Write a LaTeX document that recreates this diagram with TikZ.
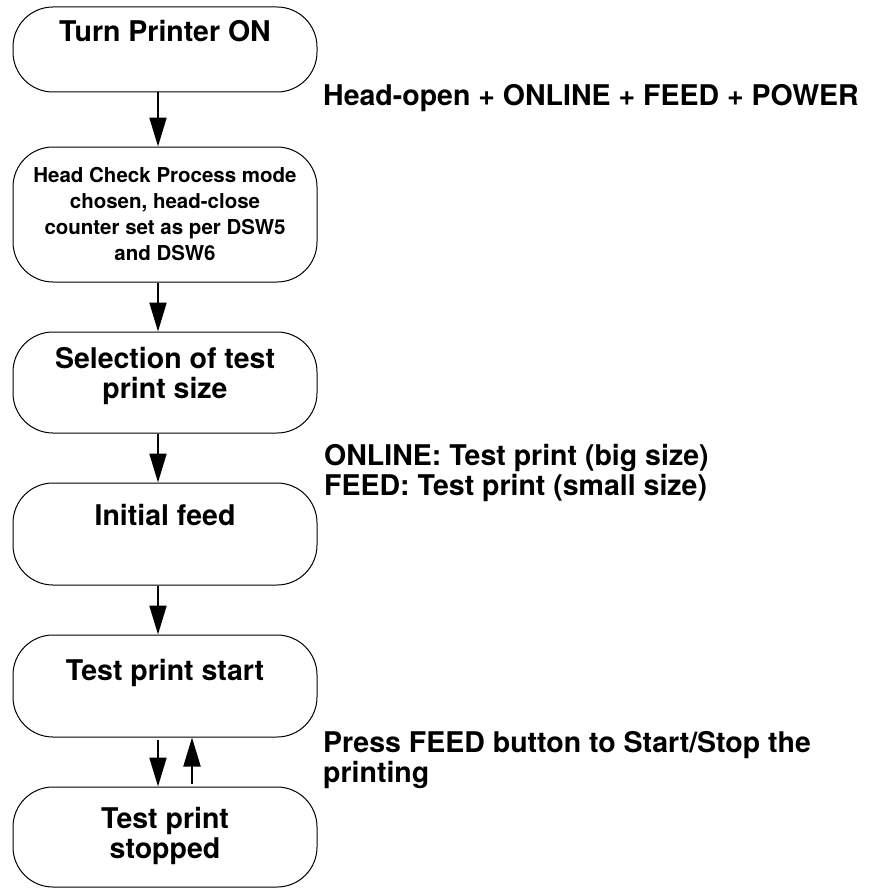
\documentclass[tikz,border=0pt]{standalone}
\usepackage{fontspec}
\setmainfont{TeX Gyre Heros}
\usetikzlibrary{arrows.meta}

\begin{document}
\begin{tikzpicture}[x=1pt,y=-1pt]
    \tikzset{
        stepbox/.style={draw, line width=1pt, rounded corners=40pt, inner sep=0pt,
            font=\bfseries\fontsize{28.5}{30}\selectfont},
        flow/.style={line width=2pt, -{Triangle[length=29pt,width=17pt]}},
        note/.style={inner sep=0pt, align=left, anchor=base west,
            font=\bfseries\fontsize{28.5}{30}\selectfont}
    }
    \useasboundingbox (0,0) rectangle (890,888);

    % Etapes du test
    \node[stepbox] (on) at (165,49.5)
        {\parbox[c][85pt][t]{304pt}{\centering\rule{0pt}{35pt}Turn Printer ON}};
    \node[stepbox, font=\bfseries\fontsize{20.5}{26.3}\selectfont] (head) at (165,214.5)
        {\parbox[c][135pt][t]{304pt}{\centering\rule{0pt}{35pt}Head Check Process mode\\
        chosen, head-close\\counter set as per DSW5\\and DSW6}};
    \node[stepbox] (size) at (165,382.5)
        {\parbox[c][101pt][t]{304pt}{\centering\rule{0pt}{36pt}Selection of test\\print size}};
    \node[stepbox] (feed) at (165,534)
        {\parbox[c][102pt][t]{304pt}{\centering\rule{0pt}{42pt}Initial feed}};
    \node[stepbox] (start) at (165,686)
        {\parbox[c][102pt][t]{304pt}{\centering\rule{0pt}{45pt}Test print start}};
    \node[stepbox] (stopped) at (165,837)
        {\parbox[c][100pt][t]{304pt}{\centering\rule{0pt}{41pt}Test print\\stopped}};

    % Fleches
    \draw[flow] ([xshift=-7pt]on.south) -- ([xshift=-7pt]head.north);
    \draw[flow] ([xshift=-7pt]head.south) -- ([xshift=-7pt]size.north);
    \draw[flow] ([xshift=-7pt]size.south) -- ([xshift=-7pt]feed.north);
    \draw[flow] ([xshift=-7pt]feed.south) -- ([xshift=-7pt]start.north);
    \draw[flow, shorten <=2pt] ([xshift=-7pt]start.south) -- ([xshift=-7pt]stopped.north);
    \draw[flow, shorten <=3pt] ([xshift=27pt]stopped.north) -- ([xshift=27pt]start.south);

    % Annotations (base = derniere ligne)
    \node[note] (keys) at (323,106) {Head-open + ONLINE + FEED + POWER};
    \node[note] (sizes) at (324,495) {ONLINE: Test print (big size)\\FEED: Test print (small size)};
    \node[note] (press) at (323,782) {Press FEED button to Start/Stop the\\printing};
\end{tikzpicture}
\end{document}
